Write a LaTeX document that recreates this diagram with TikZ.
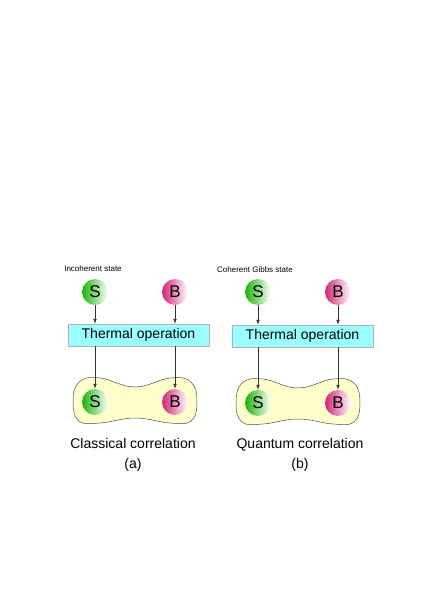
\documentclass[tikz,border=0pt]{standalone}
\usepackage{fontspec}
\setmainfont{Liberation Sans}
\usetikzlibrary{arrows.meta}
\definecolor{ballgreen}{RGB}{30,200,10}
\definecolor{ballpink}{RGB}{235,40,130}
\definecolor{boxcyan}{RGB}{153,255,255}
\definecolor{blobyellow}{RGB}{255,255,204}
\begin{document}
\begin{tikzpicture}[x=1pt,y=-1pt,
  ball/.style={circle, minimum size=26pt, inner sep=0pt, font=\fontsize{17}{17}\selectfont},
  sball/.style={ball, left color=ballgreen!90!black, middle color=ballgreen, right color=white},
  bball/.style={ball, left color=ballpink!90!black, middle color=ballpink, right color=white},
  opbox/.style={draw=gray!60, fill=boxcyan, minimum width=141pt, minimum height=22pt, inner sep=0pt, font=\fontsize{14}{14}\selectfont},
  blob/.style={draw=black!70, line width=0.5pt, fill=blobyellow},
  arr/.style={draw=black!80, line width=0.5pt, -{Latex[length=5pt,width=3.5pt]}},
  small/.style={font=\fontsize{8}{9}\selectfont},
  caption/.style={font=\fontsize{14}{14}\selectfont}
]
\useasboundingbox (0,0) rectangle (436,616);
\fill[white] (0,0) rectangle (436,616);

% Panel (a)
\begin{scope}[shift={(95,402)}]
  \draw[blob] plot[smooth cycle, tension=0.7] coordinates {(-22,0) (-16,-20) (5,-24) (40,-15) (75,-24) (96,-20) (102,0) (96,19) (75,21) (40,16) (5,21) (-16,19)};
\end{scope}
\node[small] (ta) at (93,269) {Incoherent state};
\node[sball] (sa1) at (95,292) {S};
\node[bball] (ba1) at (175,292) {B};
\node[opbox] (opa) at (138.5,335) {Thermal operation};
\node[sball] (sa2) at (95,402) {S};
\node[bball] (ba2) at (175,402) {B};
\draw[arr] (sa1) -- (sa1|-opa.north);
\draw[arr] (ba1) -- (ba1|-opa.north);
\draw[arr] (sa2|-opa.south) -- (sa2);
\draw[arr] (ba2|-opa.south) -- (ba2);
\node[caption] (ca) at (133,443) {Classical correlation};
\node[caption] (la) at (133,465) {(a)};

% Panel (b)
\begin{scope}[shift={(258,403)}]
  \draw[blob] plot[smooth cycle, tension=0.7] coordinates {(-22,0) (-16,-20) (5,-24) (40,-15) (75,-24) (96,-20) (102,0) (96,19) (75,21) (40,16) (5,21) (-16,19)};
\end{scope}
\node[small] (tb) at (255,270) {Coherent Gibbs state};
\node[sball] (sb1) at (258,292) {S};
\node[bball] (bb1) at (338,292) {B};
\node[opbox] (opb) at (302.5,336) {Thermal operation};
\node[sball] (sb2) at (258,403) {S};
\node[bball] (bb2) at (338,403) {B};
\draw[arr] (sb1) -- (sb1|-opb.north);
\draw[arr] (bb1) -- (bb1|-opb.north);
\draw[arr] (sb2|-opb.south) -- (sb2);
\draw[arr] (bb2|-opb.south) -- (bb2);
\node[caption] (cb) at (300,445) {Quantum correlation};
\node[caption] (lb) at (300,465) {(b)};
\end{tikzpicture}
\end{document}
